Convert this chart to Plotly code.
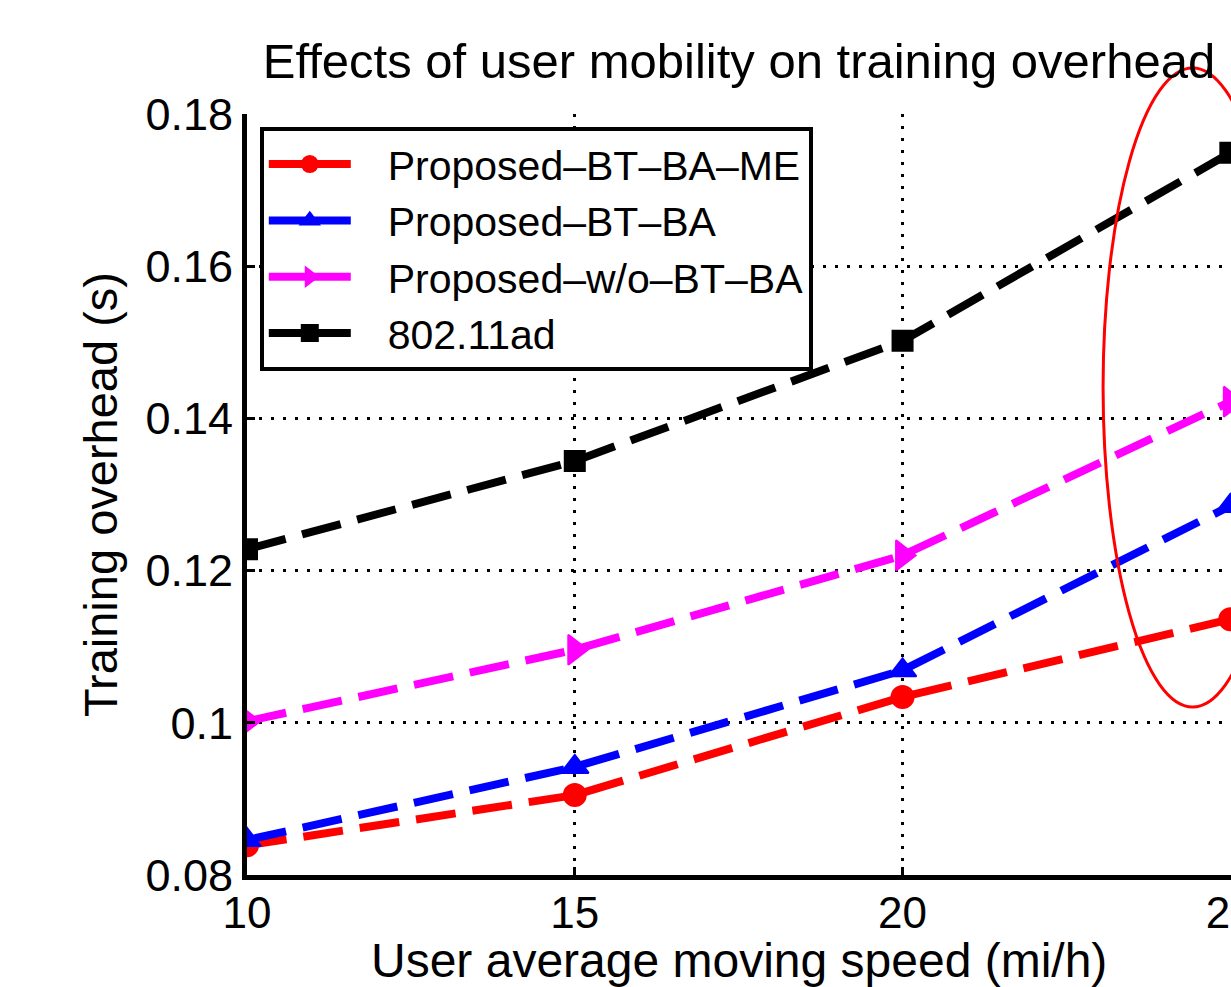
import plotly.graph_objects as go

# User average moving speed (mi/h)
speed = [10, 15, 20, 25]

# Training overhead (s) for each scheme
bt_ba_me = [0.0839, 0.0905, 0.1034, 0.1136]
bt_ba = [0.0846, 0.0942, 0.1069, 0.1285]
wo_bt_ba = [0.1002, 0.1096, 0.1220, 0.1422]
ieee_80211ad = [0.1228, 0.1344, 0.1502, 0.1749]

names = ["Proposed–BT–BA–ME", "Proposed–BT–BA", "Proposed–w/o–BT–BA", "802.11ad"]
series = [bt_ba_me, bt_ba, wo_bt_ba, ieee_80211ad]
colors = ["#ff0000", "#0000ff", "#ff00ff", "#000000"]
symbols = ["circle", "triangle-up", "triangle-right", "square"]
sizes = [22, 24, 26, 20]

x_ticks = [10, 15, 20, 25]
y_ticks = [0.08, 0.10, 0.12, 0.14, 0.16, 0.18]
y_tick_text = ["0.08", "0.1", "0.12", "0.14", "0.16", "0.18"]

FONT = "Liberation Sans, Arial, Helvetica, sans-serif"

fig = go.Figure()

for name, ys, col, sym, sz in zip(names, series, colors, symbols, sizes):
    # dashed data line with markers
    fig.add_trace(go.Scatter(
        x=speed, y=ys, mode="lines+markers", name=name, showlegend=False,
        legendgroup=name, cliponaxis=True,
        line=dict(color=col, width=8, dash="40px,17px"),
        marker=dict(symbol=sym, size=sz, color=col, line=dict(color=col, width=2)),
    ))
    # solid legend entry
    fig.add_trace(go.Scatter(
        x=[None], y=[None], mode="lines+markers", name="\u2002 " + name,
        legendgroup=name,
        line=dict(color=col, width=8),
        marker=dict(symbol=sym, size=sz, color=col, line=dict(color=col, width=2)),
    ))

# highlight ellipse around the highest speed
fig.add_shape(type="circle", xref="paper", yref="paper",
              x0=0.870, x1=1.052, y0=0.2208, y1=1.0604,
              line=dict(color="#ff0000", width=3), layer="above")

# x-axis title
fig.add_annotation(text="User average moving speed (mi/h)", xref="paper", yref="paper",
                   x=0.5, y=-0.075, xanchor="center", yanchor="top", showarrow=False,
                   font=dict(size=48, color="black"))

fig.update_layout(
    width=1231, height=987,
    margin=dict(l=247, r=0, t=114, b=112),
    paper_bgcolor="white", plot_bgcolor="white",
    font=dict(family=FONT, size=44, color="black"),
    title=dict(text="Effects of user mobility on training overhead",
               x=0.5, xref="paper", xanchor="center",
               y=1, yref="paper", yanchor="bottom", pad=dict(b=36),
               font=dict(size=49, color="black")),
    showlegend=True,
    legend=dict(x=0.013, y=0.983, xanchor="left", yanchor="top",
                bgcolor="white", bordercolor="black", borderwidth=4,
                font=dict(size=41, color="black"), itemwidth=82,
                tracegroupgap=0, itemsizing="trace"),
    xaxis=dict(
        range=[10, 25.01], tickvals=x_ticks, ticktext=[str(v) for v in x_ticks],
        showline=True, linecolor="black", linewidth=5, automargin=False,
        ticks="inside", ticklen=8, tickwidth=3, tickcolor="black",
        showgrid=True, gridcolor="black", gridwidth=3, griddash="3px,9px",
        zeroline=False, tickfont=dict(size=44), ticklabeloverflow="allow",
        ticklabelstandoff=-5,
    ),
    yaxis=dict(
        range=[0.08, 0.18], tickvals=y_ticks, ticktext=y_tick_text,
        showline=True, linecolor="black", linewidth=5, automargin=False,
        ticks="inside", ticklen=8, tickwidth=3, tickcolor="black",
        showgrid=True, gridcolor="black", gridwidth=3, griddash="3px,9px",
        zeroline=False, tickfont=dict(size=45), ticklabeloverflow="allow",
        title=dict(text="Training overhead (s)", standoff=14,
                   font=dict(size=47)),
    ),
)

fig.write_html("out.html")
